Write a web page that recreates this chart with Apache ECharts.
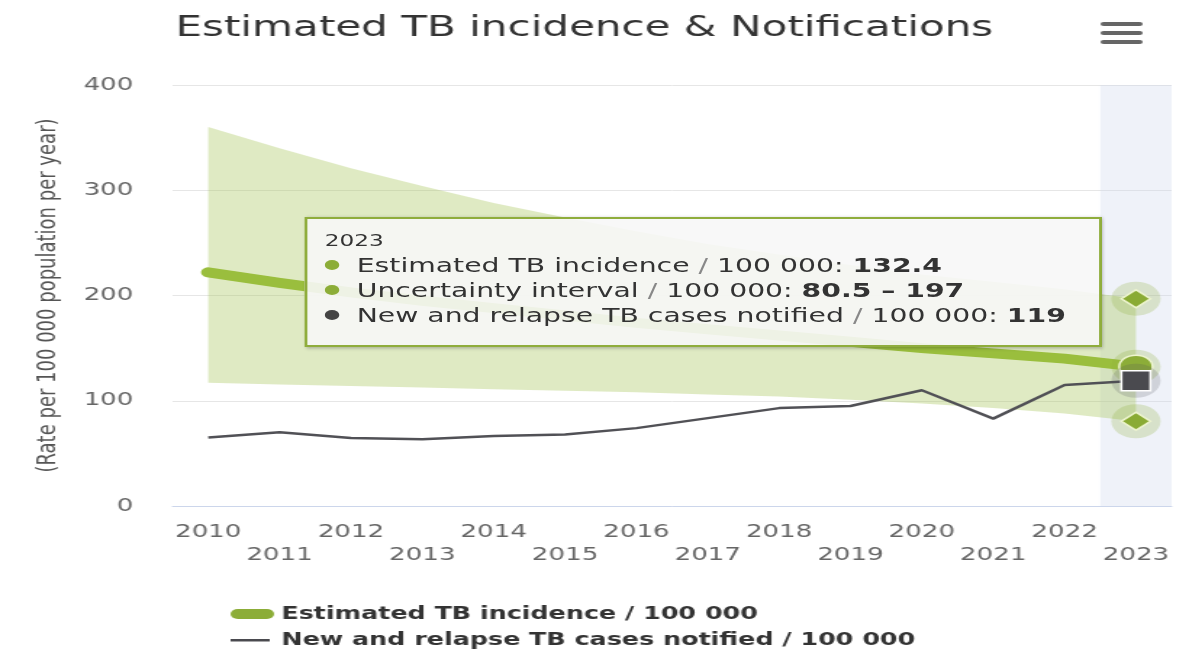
<!DOCTYPE html>
<html><head><meta charset="utf-8">
<script src="https://cdn.jsdelivr.net/npm/echarts@6/dist/echarts.min.js"></script>
<style>
html,body{margin:0;padding:0;background:#fff;overflow:hidden;width:1199px;height:652px}
#wrap{width:827px;height:652px;transform:scaleX(1.45);transform-origin:0 0}
</style></head><body><div id="wrap"></div>
<script>
const years = ['2010','2011','2012','2013','2014','2015','2016','2017','2018','2019','2020','2021','2022','2023'];
const incidence = [222, 212, 203, 195, 188, 181, 174, 168, 162, 156, 150, 145, 140, 132.4];
const uncertaintyLow = [117, 115.5, 114, 112.5, 111, 109.5, 108, 106, 104, 101, 97.5, 93, 88, 80.5];
const uncertaintyHigh = [360, 340, 321, 304, 288, 274, 261, 249, 239, 229, 220, 213, 206, 197];
const notified = [65, 70, 64.5, 63.5, 66.5, 68, 74, 83.5, 93, 95, 110, 83, 115, 119];
const yTicks = [0, 100, 200, 300, 400];
const chartTitle = 'Estimated TB incidence & Notifications';
const yAxisTitle = '(Rate per 100 000 population per year)';
const nameIncidence = 'Estimated TB incidence / 100 000';
const nameInterval = 'Uncertainty interval / 100 000';
const nameNotified = 'New and relapse TB cases notified / 100 000';

const GREEN = '#8cad38';
const GREY = '#4a4a4f';
const FONT = 'DejaVu Sans';
const last = years.length - 1;
const bandWidth = uncertaintyHigh.map((v, i) => v - uncertaintyLow[i]);

const chart = echarts.init(document.getElementById('wrap'), null, {renderer: 'canvas'});

function dot(c) {
  return '<span style="display:inline-block;width:10px;height:10px;border-radius:5px;background:' + c +
    ';margin-right:12px;vertical-align:middle;position:relative;top:-2px"></span>';
}
const sl = '<span style="color:#888"> / </span>';

const legendBase = {
  orient: 'horizontal', left: 154, itemWidth: 30, itemHeight: 10,
  selectedMode: false,
  itemStyle: {borderWidth: 0},
  textStyle: {fontFamily: FONT, fontSize: 17.5, fontWeight: 'bold', color: '#333'}
};

chart.setOption({
  animation: false,
  title: {
    text: chartTitle, left: 116, top: 9,
    textStyle: {fontFamily: FONT, fontSize: 29, fontWeight: 'normal', color: '#333'}
  },
  graphic: [0, 9, 18].map(dy => ({
    type: 'rect', left: 759, top: 22 + dy, silent: true,
    shape: {width: 29, height: 4, r: 2}, style: {fill: '#666'}
  })),
  grid: {left: 119, right: 19, top: 85, bottom: 146, containLabel: false},
  tooltip: {
    trigger: 'axis', triggerOn: 'none', alwaysShowContent: true, transitionDuration: 0,
    position: [210, 217],
    axisPointer: {type: 'shadow', z: 0, shadowStyle: {color: 'rgba(204,214,235,0.32)'}},
    backgroundColor: 'rgba(247,247,247,0.9)', borderColor: '#8fad3c', borderWidth: 2,
    padding: [10, 12],
    textStyle: {fontFamily: FONT, fontSize: 19.5, color: '#333'},
    extraCssText: 'box-shadow:1px 1px 3px rgba(0,0,0,0.3);border-radius:0;box-sizing:border-box;width:550px;height:130px;',
    formatter: function () {
      const i = last;
      return '<div style="font-size:16px;line-height:24px">' + years[i] + '</div>' +
        '<div style="line-height:25px">' + dot(GREEN) + 'Estimated TB incidence' + sl + '100 000: <b>' + incidence[i] + '</b></div>' +
        '<div style="line-height:25px">' + dot(GREEN) + 'Uncertainty interval' + sl + '100 000: <b>' + uncertaintyLow[i] + ' – ' + uncertaintyHigh[i] + '</b></div>' +
        '<div style="line-height:25px">' + dot('#444') + 'New and relapse TB cases notified' + sl + '100 000: <b>' + notified[i] + '</b></div>';
    }
  },
  legend: [
    Object.assign({}, legendBase, {top: 600, data: [{name: nameIncidence, icon: 'path://M5,0L25,0A5,5,0,0,1,25,10L5,10A5,5,0,0,1,5,0Z'}]}),
    Object.assign({}, legendBase, {top: 626, data: [{name: nameNotified, icon: 'path://M0,0L0,0M0,4L27,4L27,6.5L0,6.5ZM30,10L30,10'}]})
  ],
  xAxis: {
    type: 'category', data: years, boundaryGap: true,
    axisLine: {lineStyle: {color: '#ccd6eb', width: 1}},
    axisTick: {show: false},
    axisLabel: {
      interval: 0, fontFamily: FONT, fontSize: 18, color: '#666', margin: 15, lineHeight: 23,
      formatter: (v, i) => (i % 2 ? '\n' + v : v)
    }
  },
  yAxis: {
    type: 'value', min: yTicks[0], max: yTicks[yTicks.length - 1], interval: yTicks[1] - yTicks[0],
    name: yAxisTitle, nameLocation: 'middle', nameGap: 77, nameRotate: 90,
    nameTextStyle: {fontFamily: FONT, fontSize: 18, color: '#555'},
    axisLabel: {fontFamily: FONT, fontSize: 18, color: '#666', margin: 27},
    axisLine: {show: false}, axisTick: {show: false},
    splitLine: {lineStyle: {color: '#e6e6e6', width: 1}}
  },
  series: [
    {
      name: 'lowerBase', type: 'line', data: uncertaintyLow, stack: 'ui', symbol: 'none', silent: true,
      lineStyle: {width: 0, opacity: 0}
    },
    {
      name: nameInterval, type: 'line', data: bandWidth, stack: 'ui', symbol: 'none', silent: true,
      lineStyle: {width: 0, opacity: 0},
      areaStyle: {color: 'rgba(150,180,80,0.36)', opacity: 1}
    },
    {
      name: nameIncidence, type: 'line', data: incidence, symbol: 'none', color: GREEN,
      lineStyle: {width: 10, color: GREEN, cap: 'round', join: 'round'}
    },
    {
      name: nameNotified, type: 'line', data: notified, symbol: 'none', color: GREY,
      lineStyle: {width: 2.5, color: GREY},
      markPoint: {
        silent: true, label: {show: false},
        data: [
          {coord: [years[last], uncertaintyHigh[last]], symbol: 'circle', symbolSize: 34, itemStyle: {color: 'rgba(143,174,58,0.25)'}},
          {coord: [years[last], uncertaintyHigh[last]], symbol: 'diamond', symbolSize: [20, 18], itemStyle: {color: '#8aab35', borderColor: '#eef5d0', borderWidth: 1.5}},
          {coord: [years[last], uncertaintyLow[last]], symbol: 'circle', symbolSize: 34, itemStyle: {color: 'rgba(143,174,58,0.25)'}},
          {coord: [years[last], uncertaintyLow[last]], symbol: 'diamond', symbolSize: [20, 18], itemStyle: {color: '#8aab35', borderColor: '#eef5d0', borderWidth: 1.5}},
          {coord: [years[last], incidence[last]], symbol: 'circle', symbolSize: 34, itemStyle: {color: 'rgba(143,174,58,0.25)'}},
          {coord: [years[last], incidence[last]], symbol: 'circle', symbolSize: 23, itemStyle: {color: GREEN, borderColor: '#eef5d0', borderWidth: 1.5}},
          {coord: [years[last], notified[last]], symbol: 'circle', symbolSize: 34, itemStyle: {color: 'rgba(80,80,90,0.2)'}},
          {coord: [years[last], notified[last]], symbol: 'rect', symbolSize: 20, itemStyle: {color: GREY, borderColor: '#fff', borderWidth: 1.5}}
        ]
      }
    }
  ]
});
chart.dispatchAction({type: 'showTip', seriesIndex: 3, dataIndex: last});
</script></body></html>
